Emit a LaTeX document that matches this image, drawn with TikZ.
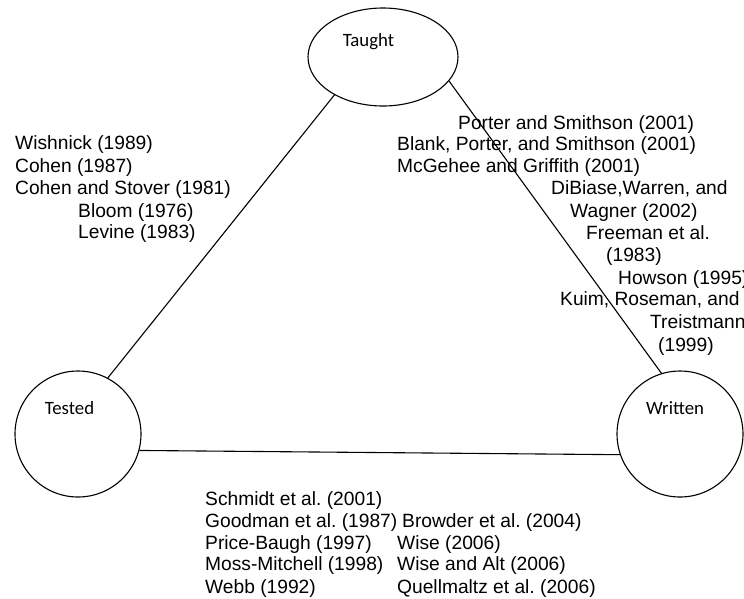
\documentclass[tikz,border=0pt]{standalone}
\usepackage{fontspec}
\setmainfont{Liberation Sans}
\newfontfamily\carlitofont{Carlito}
\usetikzlibrary{shapes.geometric}
\frenchspacing
\tikzset{
  ref/.style={anchor=base west, inner sep=0pt, font=\fontsize{19.2}{22.3}\selectfont},
  lbl/.style={anchor=center, inner sep=0pt, font=\carlitofont\fontsize{18.8}{22}\selectfont},
  circ/.style={draw, circle, line width=1.1pt, minimum size=126pt, inner sep=0pt},
  conn/.style={line width=1.1pt},
}
\begin{document}
\begin{tikzpicture}[x=1pt, y=-1pt]
\useasboundingbox (0,0) rectangle (744,598);
% nodes
\node[draw, ellipse, line width=1.1pt, minimum width=150pt, minimum height=98pt, inner sep=0pt] (taught) at (383,57) {};
\node[circ] (tested) at (78,434) {};
\node[circ] (written) at (680,434) {};
\node[lbl] (taughtlbl) at (368.5,42) {Taught};
\node[lbl] (testedlbl) at (69.5,408) {Tested};
\node[lbl] (writtenlbl) at (675,408) {Written};
% connectors
\draw[conn] (taught.218) -- (tested.62);
\draw[conn] (taught.340) -- (written.107);
\draw[conn] (tested.-15) -- (written.199);
% left block
\node[ref] (l1) at (15,149) {Wishnick (1989)};
\node[ref] (l2) at (15,172) {Cohen (1987)};
\node[ref] (l3) at (15,194) {Cohen and Stover (1981)};
\node[ref] (l4) at (78,217) {Bloom (1976)};
\node[ref] (l5) at (78,238) {Levine (1983)};
% right block
\node[ref] (r1) at (458,129) {Porter and Smithson (2001)};
\node[ref] (r2) at (397,150) {Blank, Porter, and Smithson (2001)};
\node[ref] (r3) at (397,172) {McGehee and Griffith (2001)};
\node[ref] (r4) at (551,194) {DiBiase,Warren, and};
\node[ref] (r5) at (570,217) {Wagner (2002)};
\node[ref] (r6) at (586,239) {Freeman et al.};
\node[ref] (r7) at (606,261) {(1983)};
\node[ref] (r8) at (618,284) {Howson (1995)};
\node[ref] (r9) at (560,305) {Kuim, Roseman, and};
\node[ref] (r10) at (650,328) {Treistmann};
\node[ref] (r11) at (658,351) {(1999)};
% bottom block
\node[ref] (b1) at (205,505) {Schmidt et al. (2001)};
\node[ref] (b2) at (205,527) {Goodman et al. (1987)};
\node[ref] (b3) at (205,549) {Price-Baugh (1997)};
\node[ref] (b4) at (205,570) {Moss-Mitchell (1998)};
\node[ref] (b5) at (205,593) {Webb (1992)};
\node[ref] (c2) at (402,527) {Browder et al. (2004)};
\node[ref] (c3) at (397,549) {Wise (2006)};
\node[ref] (c4) at (397,570) {Wise and Alt (2006)};
\node[ref] (c5) at (397,593) {Quellmaltz et al. (2006)};
\end{tikzpicture}
\end{document}
